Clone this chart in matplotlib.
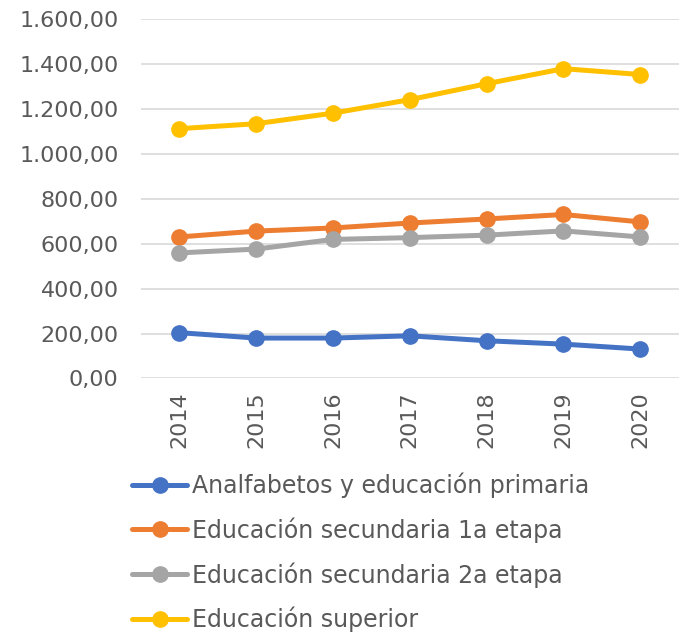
import matplotlib
matplotlib.use("Agg")
import matplotlib.pyplot as plt

plt.rcParams["font.family"] = ["DejaVu Sans"]

YEARS = ["2014", "2015", "2016", "2017", "2018", "2019", "2020"]
SERIES = [
    "Analfabetos y educación primaria",
    "Educación secundaria 1a etapa",
    "Educación secundaria 2a etapa",
    "Educación superior",
]
primaria = [204, 180, 180, 190, 168, 153, 131]
secundaria_1 = [630, 656, 670, 692, 710, 730, 697]
secundaria_2 = [559, 576, 619, 627, 638, 657, 630]
superior = [1112, 1134, 1181, 1241, 1312, 1379, 1353]
COLORS = ["#4472C4", "#ED7D31", "#A5A5A5", "#FFC000"]
YTICKS = [0, 200, 400, 600, 800, 1000, 1200, 1400, 1600]

TXT = "#595959"
fig = plt.figure(figsize=(6.94, 6.34), dpi=100)
ax = fig.add_axes([0.203, 0.403, 0.775, 0.567])

x = range(len(YEARS))
for vals, name, col in zip([primaria, secundaria_1, secundaria_2, superior], SERIES, COLORS):
    ax.plot(x, vals, color=col, lw=3.6, marker="o", ms=11, label=name,
            solid_capstyle="round", zorder=3)

ax.set_xlim(-0.5, len(YEARS) - 0.5)
ax.set_ylim(0, 1600)
ax.set_yticks(YTICKS)
ax.set_yticklabels([f"{v:,.2f}".replace(",", "X").replace(".", ",").replace("X", ".") for v in YTICKS])
ax.set_xticks(list(x))
ax.set_xticklabels(YEARS, rotation=90)
ax.grid(axis="y", color="#d9d9d9", lw=1.2)
ax.set_axisbelow(True)
for s in ax.spines.values():
    s.set_visible(False)
ax.tick_params(length=0, labelsize=16, colors=TXT, pad=9)
ax.tick_params(axis="y", pad=16)

fig.legend(loc="upper left", bbox_to_anchor=(0.19, 0.255), frameon=False,
           fontsize=17, labelcolor=TXT, handlelength=2.35, handletextpad=0.2,
           labelspacing=0.82, borderaxespad=0, borderpad=0)

fig.savefig("out.png", dpi=100)
